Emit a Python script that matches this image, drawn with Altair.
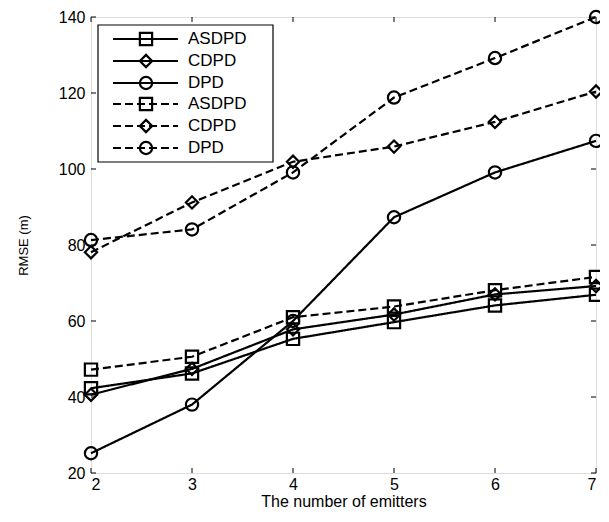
import altair as alt
import pandas as pd

emitters = [2, 3, 4, 5, 6, 7]
labels = ["ASDPD", "CDPD", "DPD", "ASDPD", "CDPD", "DPD"]
styles = ["solid", "solid", "solid", "dashed", "dashed", "dashed"]
shapes = ["square", "diamond", "circle", "square", "diamond", "circle"]
asdpd_solid = [42.3, 46.2, 55.3, 59.7, 64.1, 66.9]
cdpd_solid = [40.6, 47.4, 57.8, 61.7, 67.0, 69.2]
dpd_solid = [25.2, 38.0, 60.0, 87.3, 99.1, 107.4]
asdpd_dashed = [47.2, 50.6, 61.0, 63.8, 68.1, 71.6]
cdpd_dashed = [78.1, 91.2, 101.9, 105.9, 112.4, 120.4]
dpd_dashed = [81.3, 84.1, 99.1, 118.8, 129.2, 140.0]
yticks = [20, 40, 60, 80, 100, 120, 140]
xticks = [2, 3, 4, 5, 6, 7]

series_values = [asdpd_solid, cdpd_solid, dpd_solid, asdpd_dashed, cdpd_dashed, dpd_dashed]

W, H = 505, 456
FONT = "Liberation Sans"
DASH = {"solid": [1, 0], "dashed": [8, 4]}

rows = []
for i, vals in enumerate(series_values):
    for x, y in zip(emitters, vals):
        rows.append({"x": x, "y": y, "key": f"s{i}", "method": labels[i],
                     "style": styles[i], "shape": shapes[i]})
df = pd.DataFrame(rows)

xs = alt.Scale(domain=[2, 7], nice=False, zero=False)
ys = alt.Scale(domain=[20, 140], nice=False, zero=False)

xaxis = alt.Axis(values=xticks, format="d", title="The number of emitters", tickSize=0,
                 domain=False, grid=False, labelFont=FONT, labelFontSize=16, labelColor="black",
                 labelPadding=3, titleFont=FONT, titleFontSize=16, titleFontWeight="normal",
                 titleColor="black", titlePadding=1)
yaxis = alt.Axis(values=yticks, format="d", title="RMSE (m)", tickSize=0,
                 domain=False, grid=False, labelFont=FONT, labelFontSize=16, labelColor="black",
                 labelPadding=6, titleFont=FONT, titleFontSize=13, titleFontWeight="normal",
                 titleColor="black", titlePadding=28)

X = alt.X("x:Q", scale=xs, axis=xaxis)
Y = alt.Y("y:Q", scale=ys, axis=yaxis)

lines = alt.Chart(df).mark_line(color="black", strokeWidth=2.2).encode(
    x=X, y=Y,
    detail="key:N",
    strokeDash=alt.StrokeDash("style:N", scale=alt.Scale(domain=["solid", "dashed"],
                              range=[DASH["solid"], DASH["dashed"]]), legend=None),
)
points = alt.Chart(df).mark_point(filled=False, color="black", strokeWidth=2.2, size=150,
                                  opacity=1).encode(
    x=X, y=Y,
    shape=alt.Shape("shape:N", scale=alt.Scale(domain=["square", "diamond", "circle"],
                    range=["square", "diamond", "circle"]), legend=None),
)

ydf = pd.DataFrame({"y": yticks})
xdf = pd.DataFrame({"x": xticks})
tick_layers = [
    alt.Chart(ydf).mark_rule(color="black", strokeWidth=1).encode(
        y=Y, x=alt.value(0), x2=alt.value(5)),
    alt.Chart(ydf).mark_rule(color="black", strokeWidth=1).encode(
        y=Y, x=alt.value(W - 5), x2=alt.value(W)),
    alt.Chart(xdf).mark_rule(color="black", strokeWidth=1).encode(
        x=X, y=alt.value(H - 5), y2=alt.value(H)),
    alt.Chart(xdf).mark_rule(color="black", strokeWidth=1).encode(
        x=X, y=alt.value(0), y2=alt.value(5)),
]

# legend box (layout only)
LX0, LX1, LY0, LY1 = 7, 182, 8, 145
row_y = [22, 44, 66, 87, 109, 131]
legend_layers = [
    alt.Chart(pd.DataFrame({"a": [0]})).mark_rect(fill="white", stroke="black", strokeWidth=1.2).encode(
        x=alt.value(LX0), x2=alt.value(LX1), y=alt.value(LY0), y2=alt.value(LY1))
]
for i in range(6):
    one = pd.DataFrame({"label": [labels[i]]})
    legend_layers.append(alt.Chart(one).mark_rule(color="black", strokeWidth=2.2,
                                                  strokeDash=DASH[styles[i]]).encode(
        x=alt.value(22), x2=alt.value(87), y=alt.value(row_y[i])))
    legend_layers.append(alt.Chart(one).mark_point(filled=False, color="black", strokeWidth=2.2,
                                                   size=150, opacity=1, shape=shapes[i]).encode(
        x=alt.value(55), y=alt.value(row_y[i])))
    legend_layers.append(alt.Chart(one).mark_text(align="left", baseline="middle", font=FONT,
                                                  fontSize=17, color="black").encode(
        x=alt.value(97), y=alt.value(row_y[i]), text="label:N"))

chart = alt.layer(lines, points, *tick_layers, *legend_layers).properties(
    width=W, height=H,
    padding={"left": 83, "top": 9, "right": 4, "bottom": 41},
    autosize=alt.AutoSizeParams(type="none"),
).configure_view(stroke="black", strokeWidth=1.2).configure(background="white")

chart.save("out.html", embed_options={"renderer": "svg", "actions": False})
